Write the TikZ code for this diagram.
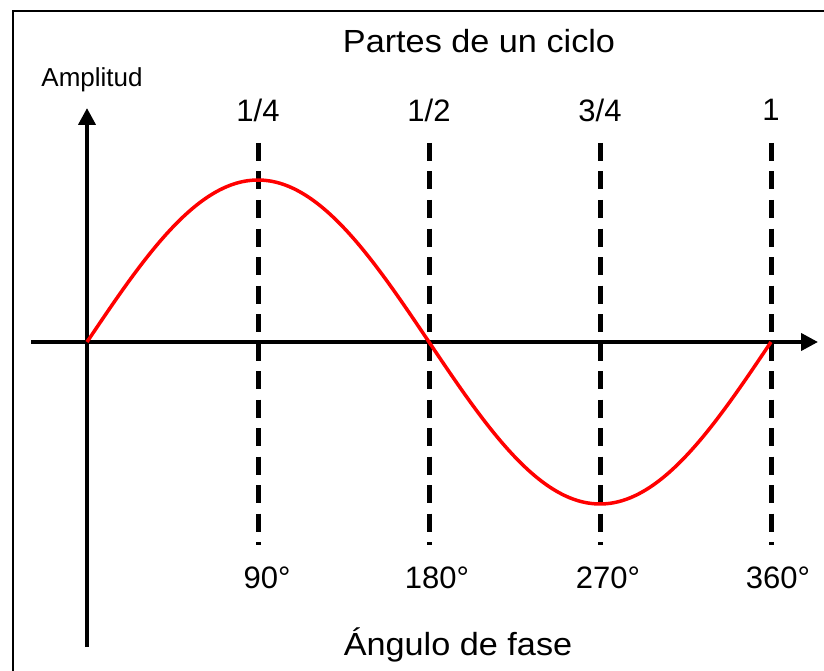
\documentclass[tikz,border=0pt]{standalone}
\usepackage{fontspec}
\setmainfont{Liberation Sans}
\usetikzlibrary{arrows.meta}
\begin{document}
\begin{tikzpicture}[x=1pt,y=-1pt,
  axis/.style={line width=4pt,-{Triangle[length=17pt,width=17pt]}},
  guide/.style={line width=5pt,dash pattern=on 18pt off 10.5pt},
  wave/.style={red,line width=3.5pt},
  lbl/.style={inner sep=0pt,font=\fontsize{31}{31}\selectfont},
  big/.style={inner sep=0pt,xscale=1.07,font=\fontsize{32}{32}\selectfont},
  small/.style={inner sep=0pt,font=\fontsize{26}{26}\selectfont}]
\useasboundingbox (0,0) rectangle (824,671);
\draw[line width=2.5pt] (13,11) rectangle (840,690);
% guides
\foreach \n/\x in {a/258,b/429,c/600,d/771}{
  \coordinate (top\n) at (\x,143);
  \coordinate (bot\n) at (\x,545);
  \draw[guide] (top\n) -- (bot\n);
}
% axes
\coordinate (o) at (87,342);
\coordinate (ybot) at (87,647);
\coordinate (ytop) at (87,108);
\coordinate (xl) at (31,342);
\coordinate (xr) at (818,342);
\draw[axis] (ybot) -- (ytop);
\draw[axis] (xl) -- (xr);
% wave
\draw[wave] plot[domain=0:360,samples=120,smooth] ({87+\x*1.9},{342-162*sin(\x)});
% labels
\node[big] (title) at (479,41) {Partes de un ciclo};
\node[small] (amp) at (92,80) {Amplitud};
\node[lbl] (q1) at (258,110) {1/4};
\node[lbl] (q2) at (429,110) {1/2};
\node[lbl] (q3) at (600,110) {3/4};
\node[lbl] (q4) at (771,110) {1};
\node[lbl] (d1) at (267,578) {90°};
\node[lbl] (d2) at (437,578) {180°};
\node[lbl] (d3) at (608,578) {270°};
\node[lbl] (d4) at (778,578) {360°};
\node[big] (xlab) at (458,645) {Ángulo de fase};
\end{tikzpicture}
\end{document}
